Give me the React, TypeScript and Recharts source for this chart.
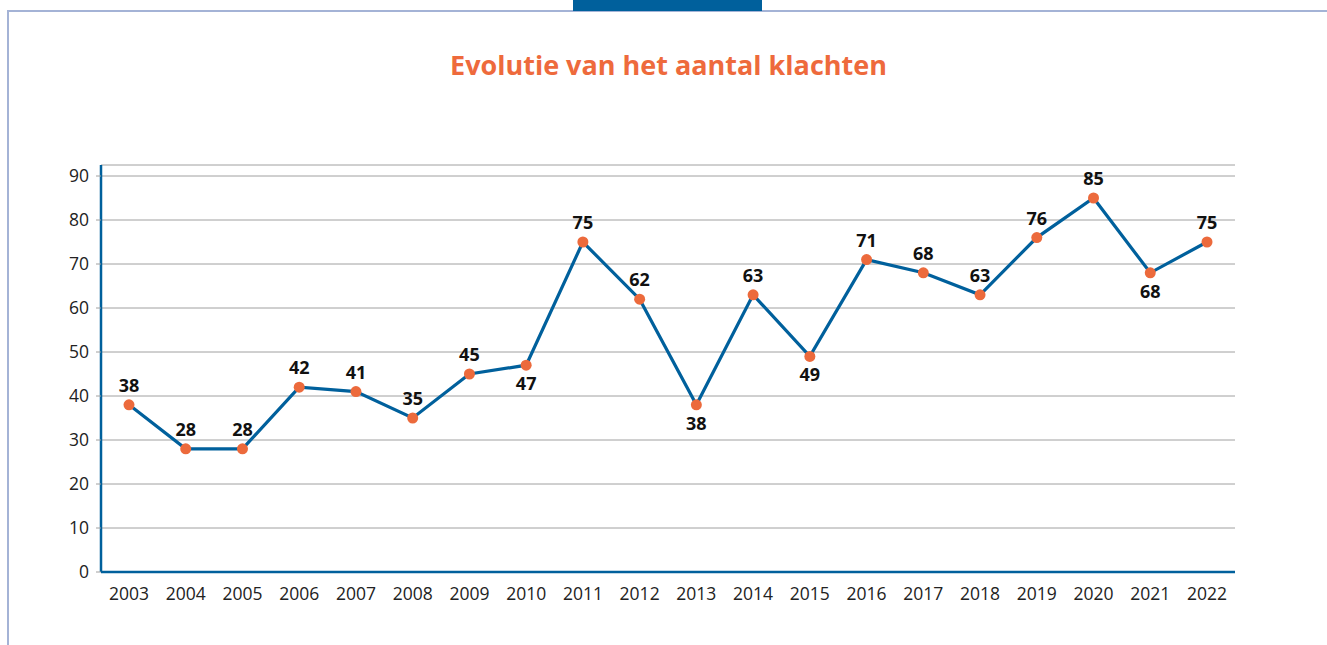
import React from "react";
import {
  LineChart,
  Line,
  XAxis,
  YAxis,
  CartesianGrid,
  LabelList,
} from "recharts";

const years = [
  "2003", "2004", "2005", "2006", "2007", "2008", "2009", "2010", "2011", "2012",
  "2013", "2014", "2015", "2016", "2017", "2018", "2019", "2020", "2021", "2022",
];
const complaints = [38, 28, 28, 42, 41, 35, 45, 47, 75, 62, 38, 63, 49, 71, 68, 63, 76, 85, 68, 75];
const yTicks = [0, 10, 20, 30, 40, 50, 60, 70, 80, 90];
// years whose value label sits under the point
const labelBelow = ["2010", "2013", "2015", "2021"];

const chartData = years.map((year, i) => ({ year, value: complaints[i] }));

const FONT = "'Open Sans', sans-serif";

const ValueLabel = (props: any) => {
  const { x, y, value, index } = props;
  const below = labelBelow.includes(years[index]);
  return (
    <text
      x={x}
      y={below ? y + 25 : y - 13}
      textAnchor="middle"
      fontFamily={FONT}
      fontWeight={700}
      fontSize={18}
      fill="#111"
    >
      {value}
    </text>
  );
};

const App = () => {
  return (
    <div style={{ position: "absolute", left: 0, top: 0, width: 1327, height: 645, background: "#fff" }}>
      <div style={{ position: "absolute", left: 8, top: 10, width: 1319, height: 2, background: "#a4b3d6" }} />
      <div style={{ position: "absolute", left: 7, top: 10, width: 2, height: 635, background: "#a4b3d6" }} />
      <div style={{ position: "absolute", left: 573, top: 0, width: 189, height: 11, background: "#00609c" }} />
      <div
        style={{
          position: "absolute",
          left: 0,
          width: 1337,
          top: 46,
          textAlign: "center",
          fontFamily: FONT,
          fontWeight: 700,
          fontSize: 27,
          color: "#ee6a3c",
        }}
      >
        Evolutie van het aantal klachten
      </div>
      <div style={{ position: "absolute", left: 0, top: 0 }}>
        <LineChart
          width={1327}
          height={645}
          data={chartData}
          margin={{ top: 165, right: 92, bottom: 43, left: 41 }}
        >
          <CartesianGrid vertical={false} stroke="#a0a0a0" strokeWidth={1} />
          <XAxis
            dataKey="year"
            height={30}
            padding={{ left: 28, right: 28 }}
            axisLine={{ stroke: "#00609c", strokeWidth: 2.5 }}
            tickLine={false}
            tick={{ fontFamily: FONT, fontSize: 17.5, fill: "#222" }}
            tickMargin={10}
            interval={0}
          />
          <YAxis
            width={60}
            domain={[0, 92.5]}
            ticks={yTicks}
            axisLine={{ stroke: "#00609c", strokeWidth: 2.5 }}
            tickLine={{ stroke: "#a0a0a0" }}
            tickSize={5}
            tick={{ fontFamily: FONT, fontSize: 17.5, fill: "#222" }}
            tickMargin={7}
          />
          <Line
            type="linear"
            dataKey="value"
            stroke="#00609c"
            strokeWidth={3.2}
            dot={{ r: 5.5, fill: "#ec6a3c", stroke: "#ec6a3c", strokeWidth: 0 }}
            activeDot={false}
            isAnimationActive={false}
          >
            <LabelList dataKey="value" content={<ValueLabel />} />
          </Line>
        </LineChart>
      </div>
    </div>
  );
};

export default App;
